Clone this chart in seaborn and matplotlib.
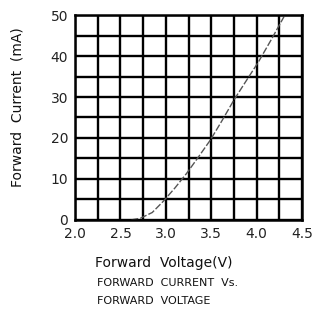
import numpy as np
import matplotlib
matplotlib.use("Agg")
import matplotlib.pyplot as plt
import seaborn as sns
import pandas as pd

# values
voltage = [2.62, 2.72, 2.85, 2.97, 3.10, 3.23, 3.36, 3.49, 3.62, 3.75, 3.88, 4.02, 4.16, 4.30]
current = [0.0, 0.4, 1.8, 4.5, 7.8, 11.4, 15.4, 19.5, 24.3, 29.3, 33.8, 38.6, 44.0, 49.6]
x_ticks = [2.0, 2.5, 3.0, 3.5, 4.0, 4.5]
y_ticks = [0, 10, 20, 30, 40, 50]

sns.set_style("white")
plt.rcParams['font.family'] = ['DejaVu Sans']

df = pd.DataFrame({"V": voltage, "I": current})

fig = plt.figure(figsize=(3.18, 3.15), dpi=100)
ax = fig.add_axes([0.236, 0.302, 0.714, 0.650])

sns.lineplot(data=df, x="V", y="I", ax=ax, color="#555555", linewidth=1.0,
             linestyle=(0, (5, 1.5)))

ax.set_xlim(2.0, 4.5)
ax.set_ylim(0, 50)
ax.set_xticks(np.arange(2.0, 4.51, 0.25), minor=True)
ax.set_yticks(np.arange(0, 51, 5), minor=True)
ax.set_xticks(x_ticks)
ax.set_yticks(y_ticks)
ax.set_xticklabels([f"{t:.1f}" for t in x_ticks], fontsize=10)
ax.set_yticklabels([str(t) for t in y_ticks], fontsize=10)
ax.grid(True, which="both", color="black", linewidth=1.7)
ax.set_axisbelow(True)
ax.tick_params(which="both", length=0, pad=5, colors="#222222")
for s in ax.spines.values():
    s.set_color("black")
    s.set_linewidth(1.8)
ax.set_xlabel("")
ax.set_ylabel("")

fig.text(18 / 318, 1 - 107 / 315, "Forward  Current  (mA)", rotation=90,
         ha="center", va="center", fontsize=10, color="#111111")
fig.text(95 / 318, 1 - 263 / 315, "Forward  Voltage(V)", ha="left", va="center",
         fontsize=10, color="#111111")
fig.text(97 / 318, 1 - 283 / 315, "FORWARD  CURRENT  Vs.", ha="left", va="center",
         fontsize=8, color="#111111")
fig.text(97 / 318, 1 - 301 / 315, "FORWARD  VOLTAGE", ha="left", va="center",
         fontsize=8, color="#111111")

fig.savefig("out.png", dpi=100)
